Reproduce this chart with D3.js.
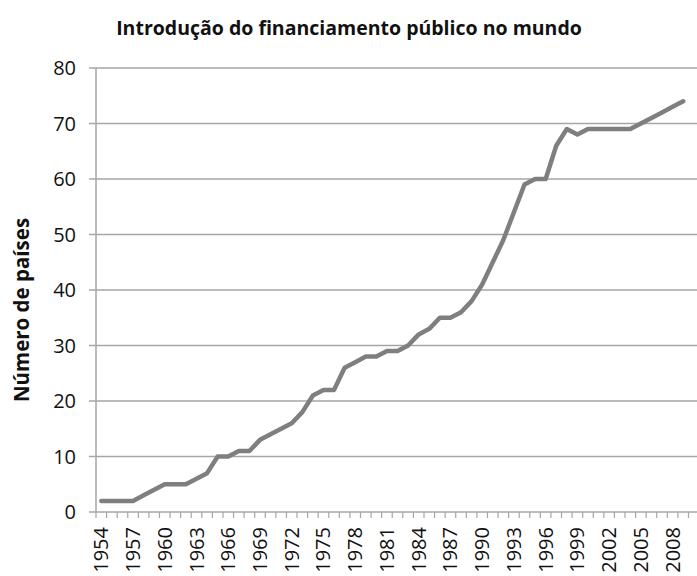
<!DOCTYPE html>
<html>
<head>
<meta charset="utf-8">
<script src="https://cdn.jsdelivr.net/npm/d3@7"></script>
<style>
  body { margin: 0; background: #fff; }
  text { font-family: "Open Sans", "Noto Sans", sans-serif; fill: #111; }
</style>
</head>
<body>
<div id="chart"></div>
<script>
// data
var years = d3.range(1954, 2011);   // category axis runs one step past the last point
var paises = [2, 2, 2, 2, 3, 4, 5, 5, 5, 6,
              7, 10, 10, 11, 11, 13, 14, 15, 16, 18,
              21, 22, 22, 26, 27, 28, 28, 29, 29, 30,
              32, 33, 35, 35, 36, 38, 41, 45, 49, 54,
              59, 60, 60, 66, 69, 68, 69, 69, 69, 69,
              69, 70, 71, 72, 73, 74];
var yTicks = [0, 10, 20, 30, 40, 50, 60, 70, 80];
var labelYears = d3.range(1954, 2009, 3);
var title = "Introdução do financiamento público no mundo";
var yTitle = "Número de países";

var width = 697, height = 576;
var margin = {top: 68, right: 0, bottom: 64, left: 96};

var svg = d3.select("#chart").append("svg")
    .attr("width", width)
    .attr("height", height);

var x = d3.scaleBand()
    .domain(years)
    .range([margin.left, margin.left + years.length * 10.58]);

var y = d3.scaleLinear()
    .domain([0, 80])
    .range([height - margin.bottom, margin.top]);

// gridlines + y ticks
svg.append("g")
    .selectAll("line")
    .data(yTicks)
    .enter().append("line")
    .attr("x1", margin.left - 7)
    .attr("x2", width)
    .attr("y1", function(d) { return y(d); })
    .attr("y2", function(d) { return y(d); })
    .attr("stroke", "#a6a6a6")
    .attr("stroke-width", 1.5);

// y axis labels
svg.append("g")
    .selectAll("text")
    .data(yTicks)
    .enter().append("text")
    .attr("x", margin.left - 20)
    .attr("y", function(d) { return y(d); })
    .attr("dy", "0.35em")
    .attr("text-anchor", "end")
    .style("font-size", "20px")
    .text(function(d) { return d; });

// y axis line
svg.append("line")
    .attr("x1", margin.left).attr("x2", margin.left)
    .attr("y1", y(80)).attr("y2", y(0))
    .attr("stroke", "#a6a6a6")
    .attr("stroke-width", 1.5);

// x tick marks between categories
svg.append("g")
    .selectAll("line")
    .data(years)
    .enter().append("line")
    .attr("x1", function(d) { return x(d); })
    .attr("x2", function(d) { return x(d); })
    .attr("y1", y(0))
    .attr("y2", y(0) + 6)
    .attr("stroke", "#a6a6a6")
    .attr("stroke-width", 1.2);

// x labels
var xAxis = d3.axisBottom(x).tickValues(labelYears).tickSize(0).tickPadding(0);
var gx = svg.append("g")
    .attr("transform", "translate(0," + (y(0) + 15) + ")")
    .call(xAxis);
gx.select(".domain").remove();
gx.selectAll("text")
    .attr("transform", "rotate(-90)")
    .attr("x", 0)
    .attr("y", 0)
    .attr("dy", "0.35em")
    .attr("text-anchor", "end")
    .style("font-size", "20px")
    .style("font-family", "'Open Sans', sans-serif")
    .style("fill", "#111");

// line
var line = d3.line()
    .x(function(d, i) { return x(years[i]) + x.bandwidth() / 2; })
    .y(function(d) { return y(d); });

svg.append("path")
    .datum(paises)
    .attr("d", line)
    .attr("fill", "none")
    .attr("stroke", "#7f7f7f")
    .attr("stroke-width", 4.5)
    .attr("stroke-linejoin", "round")
    .attr("stroke-linecap", "round");

// titles
svg.append("text")
    .attr("x", 349)
    .attr("y", 35)
    .attr("text-anchor", "middle")
    .style("font-size", "19.5px")
    .style("font-weight", "bold")
    .text(title);

svg.append("text")
    .attr("transform", "translate(29,310) rotate(-90)")
    .attr("text-anchor", "middle")
    .style("font-size", "20.5px")
    .style("font-weight", "bold")
    .text(yTitle);
</script>
</body>
</html>
